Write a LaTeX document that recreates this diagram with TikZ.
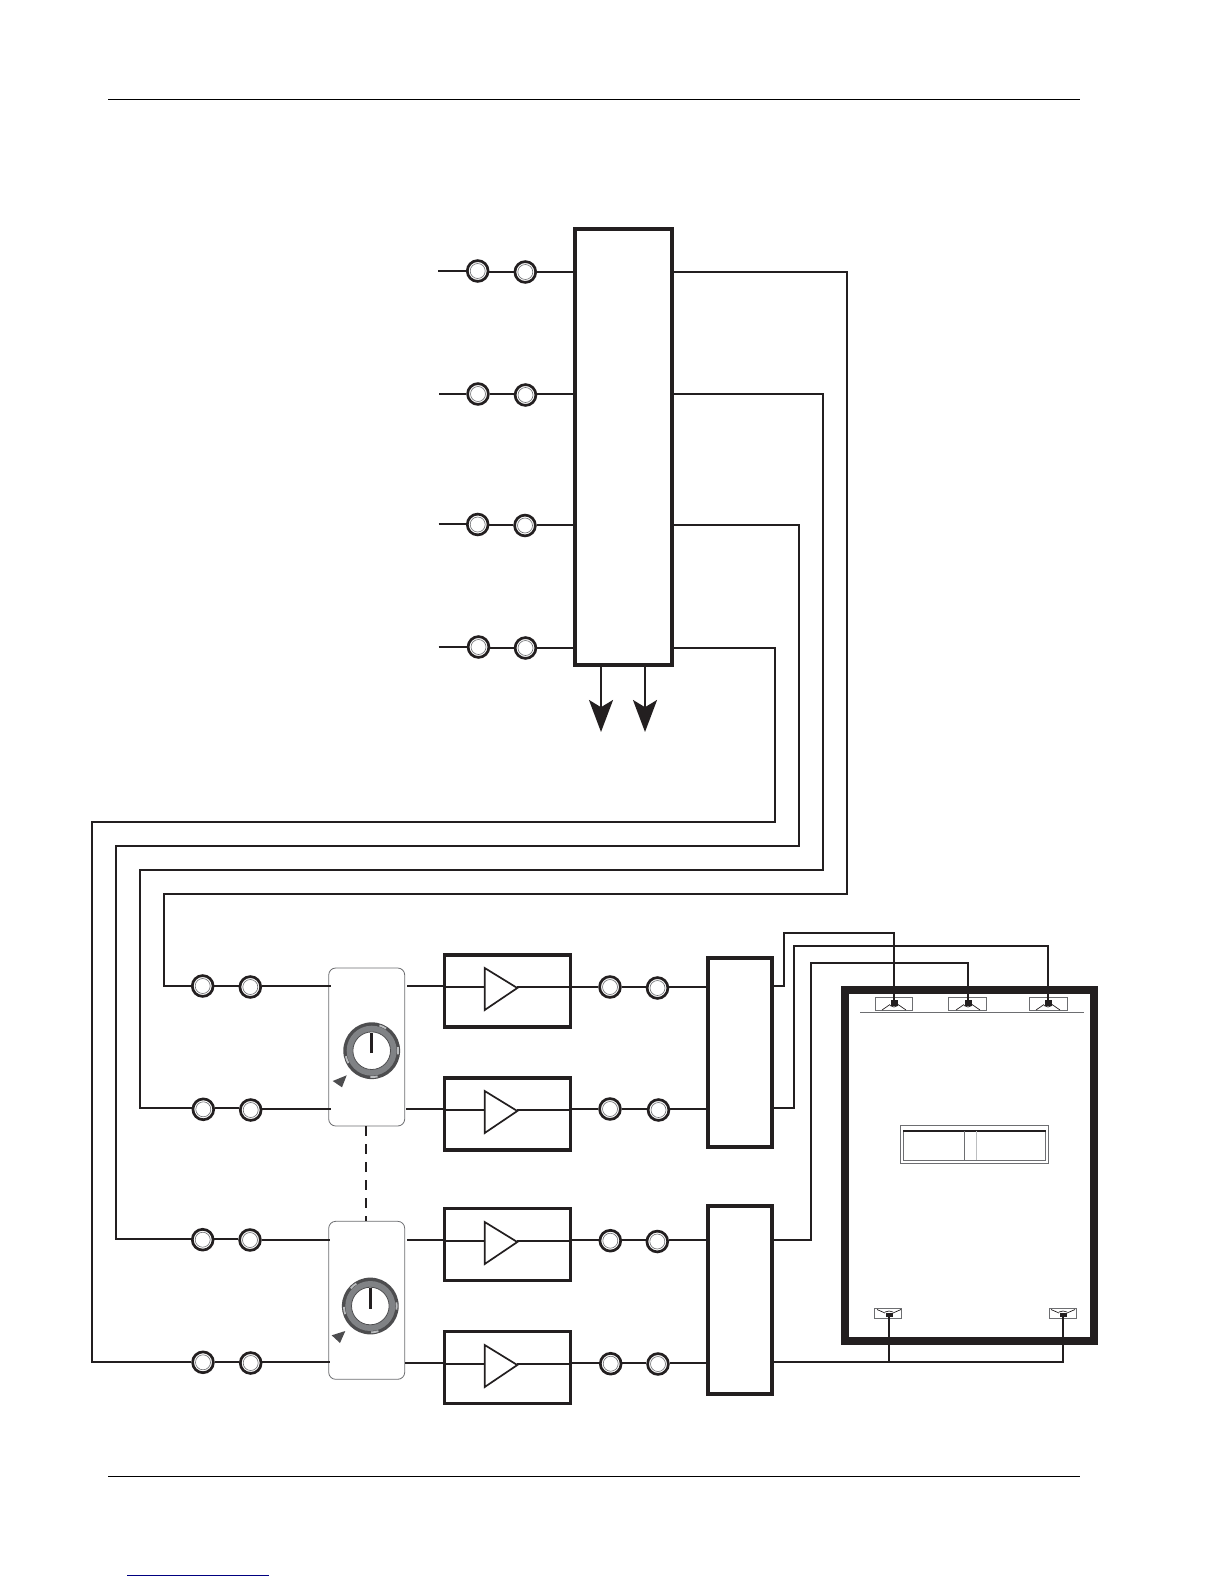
\documentclass[tikz,border=0pt]{standalone}
\usetikzlibrary{fit,arrows.meta}
\definecolor{ink}{HTML}{231F20}
\definecolor{ringdark}{HTML}{4D4D4F}
\definecolor{ringmid}{HTML}{808285}
\definecolor{ticklight}{HTML}{BCBEC0}
\definecolor{thingray}{HTML}{6D6E71}
\definecolor{linkblue}{HTML}{000080}
\tikzset{
  wire/.style={draw=ink,line width=1.05pt,line join=miter},
  thinwire/.style={draw=ink,line width=.55pt},
  blockbox/.style={draw=ink,line width=1.75pt,fill=white,inner sep=0pt,outer sep=0pt},
  roombox/.style={draw=ink,line width=3.9pt,inner sep=0pt,outer sep=0pt},
  panelbox/.style={draw=thingray,line width=.4pt,fill=white,rounded corners=3.5pt,inner sep=0pt,outer sep=0pt},
  jack/.style={circle,draw=ink,line width=1.35pt,fill=white,minimum size=10.4pt,inner sep=0pt,outer sep=.6pt,
    path picture={\draw[thingray,line width=.3pt] (path picture bounding box.center) circle (3.75pt);}},
  spkbox/.style={draw=thingray,line width=.45pt,inner sep=0pt,outer sep=0pt},
  cone/.style={draw=ink,line width=.35pt},
  magnet/.style={fill=ink,draw=none,inner sep=0pt,outer sep=0pt},
  fine/.style={draw=thingray,line width=.5pt},
  pagerule/.style={draw=black,line width=.6pt},
  downarrow/.style={wire,-{Stealth[length=16pt,width=12pt,inset=3.6pt]}},
  link/.style={draw=ink,line width=1.05pt,dash pattern=on 5pt off 4pt}
}
\begin{document}
\begin{tikzpicture}[x=0.5pt,y=-0.5pt]
\useasboundingbox (0,0) rectangle (1224,1584);
% page rules
\coordinate (ra) at (108,99.5); \coordinate (rb) at (1080,99.5);
\coordinate (rc) at (108,1476.3); \coordinate (rd) at (1080,1476.3);
\coordinate (re) at (127,1575.3); \coordinate (rf) at (269,1575.3);
\draw[pagerule] (ra) -- (rb);
\draw[pagerule] (rc) -- (rd);
\draw[draw=linkblue,line width=.6pt] (re) -- (rf);
% main block
\node[blockbox,fit={(575,229)(672,665)}] (mix) {};
% top jacks
\node[jack] (t1a) at (477.7,271) {}; \node[jack] (t1b) at (525.3,272) {};
\node[jack] (t2a) at (478,394) {};   \node[jack] (t2b) at (525.5,395) {};
\node[jack] (t3a) at (477.7,524.5) {}; \node[jack] (t3b) at (525,525.5) {};
\node[jack] (t4a) at (478.5,647) {}; \node[jack] (t4b) at (525.5,648) {};
\coordinate (i1) at (438,271); \coordinate (i2) at (439,394);
\coordinate (i3) at (438.5,524); \coordinate (i4) at (438.5,647);
\coordinate (w1) at (0,272); \coordinate (w2) at (0,394);
\coordinate (w3) at (0,525); \coordinate (w4) at (0,648);
\foreach \n in {1,2,3,4}{
  \draw[wire] (i\n) -- (i\n -| t\n a.west);
  \draw[wire] (t\n a.east |- w\n) -- (t\n b.west |- w\n);
  \draw[wire] (t\n b.east |- w\n) -- (w\n -| mix.west);
}
% bottom arrows
\coordinate (ar1) at (601,732); \coordinate (ar2) at (645,732);
\draw[downarrow] (ar1 |- mix.south) -- (ar1);
\draw[downarrow] (ar2 |- mix.south) -- (ar2);
% input jacks
\node[jack] (r1a) at (202.7,986) {};    \node[jack] (r1b) at (250.3,987) {};
\node[jack] (r2a) at (203.3,1109.3) {}; \node[jack] (r2b) at (250.7,1110) {};
\node[jack] (r3a) at (202.7,1239.7) {}; \node[jack] (r3b) at (250,1240) {};
\node[jack] (r4a) at (203,1362.3) {};   \node[jack] (r4b) at (250.7,1363) {};
% long loops
\coordinate (c1) at (847,894); \coordinate (d1) at (164,894);
\coordinate (c2) at (823,870); \coordinate (d2) at (140,870);
\coordinate (c3) at (799,846); \coordinate (d3) at (116,846);
\coordinate (c4) at (775,822); \coordinate (d4) at (92,822);
\coordinate (g1) at (0,986);  \coordinate (g2) at (0,1108);
\coordinate (g3) at (0,1239); \coordinate (g4) at (0,1362);
\draw[wire] (w1 -| mix.east) -| (c1) -- (d1) |- (g1 -| r1a.west);
\draw[wire] (w2 -| mix.east) -| (c2) -- (d2) |- (g2 -| r2a.west);
\draw[wire] (w3 -| mix.east) -| (c3) -- (d3) |- (g3 -| r3a.west);
\draw[wire] (w4 -| mix.east) -| (c4) -- (d4) |- (g4 -| r4a.west);
% knob panels
\node[panelbox,fit={(328.7,968)(404.7,1126)}] (p1) {};
\node[panelbox,fit={(328.7,1221.3)(404.7,1379.3)}] (p2) {};
\coordinate (lk) at (366,1100);
\draw[link] (lk |- p1.south) -- (lk |- p2.north);
\foreach \cx/\cy/\ta/\tb/\tc/\td in {371.7/1050.7/65/0/-85/200, 370.3/1306/130/0/-80/190}{
  \begin{scope}[shift={(\cx,\cy)}]
    \fill[ringdark] (0,0) circle (14.2pt);
    \foreach \a in {\ta,\tb,\tc,\td}{
      \draw[ticklight,line width=.9pt] (-\a+8:26.4) -- (-\a:26.4) -- (-\a-8:26.4);
    }
    \fill[ringmid] (0,0) circle (12.5pt);
    \draw[ringdark,line width=.4pt,fill=white] (0,0) circle (9.4pt);
    \draw[ink,line width=1.6pt] (0,2.5) -- (0,-18);
  \end{scope}
}
\fill[ringdark] (332.7,1081) -- (346.7,1075.3) -- (342,1087.3) -- cycle;
\fill[ringdark] (331.7,1335.3) -- (345.3,1331) -- (340,1343) -- cycle;
% amplifiers
\foreach \n/\t in {1/955,2/1078,3/1208.5,4/1331.5}{
  \pgfmathsetmacro{\b}{\t+72}
  \pgfmathsetmacro{\m}{round(\t+32)}
  \pgfmathsetmacro{\u}{\m-19}
  \pgfmathsetmacro{\v}{\m+23}
  \pgfmathsetmacro{\k}{\m+1}
  \node[blockbox,fit={(444.7,\t)(570.7,\b)}] (a\n) {};
  \coordinate (tw\n) at (484.7,\m);
  \coordinate (te\n) at (517.3,\m);
  \draw[ink,line width=.85pt,line join=miter] (484.7,\u) -- (517.3,\k) -- (484.7,\v) -- cycle;
  \draw[thinwire] (tw\n -| a\n.west) -- (tw\n);
  \draw[thinwire] (te\n) -- (te\n -| a\n.east);
}
% crossovers
\node[blockbox,fit={(708,958)(772,1147)}] (x1) {};
\node[blockbox,fit={(708,1206)(772,1394)}] (x2) {};
% output jacks
\node[jack] (q1a) at (610,987) {};      \node[jack] (q1b) at (657.5,988) {};
\node[jack] (q2a) at (610,1109) {};     \node[jack] (q2b) at (658.5,1110) {};
\node[jack] (q3a) at (610.3,1240.7) {}; \node[jack] (q3b) at (657.3,1241.5) {};
\node[jack] (q4a) at (610.7,1363.7) {}; \node[jack] (q4b) at (658,1364) {};
% row wiring
\coordinate (h1) at (0,987);  \coordinate (h2) at (0,1109);
\coordinate (h3) at (0,1240); \coordinate (h4) at (0,1363);
\coordinate (pl1) at (331,986);  \coordinate (pr1) at (407,986);
\coordinate (pl2) at (331,1109); \coordinate (pr2) at (406,1109);
\coordinate (pl3) at (330,1240); \coordinate (pr3) at (407,1240);
\coordinate (pl4) at (330,1362); \coordinate (pr4) at (405,1363);
\foreach \n/\x in {1/x1,2/x1,3/x2,4/x2}{
  \draw[wire] (r\n a.east |- g\n) -- (r\n b.west |- g\n);
  \draw[wire] (r\n b.east |- pl\n) -- (pl\n);
  \draw[wire] (pr\n) -- (pr\n -| a\n.west);
  \draw[wire] (h\n -| a\n.east) -- (h\n -| q\n a.west);
  \draw[wire] (h\n -| q\n a.east) -- (h\n -| q\n b.west);
  \draw[wire] (h\n -| q\n b.east) -- (h\n -| \x.west);
}
% room
\node[roombox,fit={(845.2,990)(1093.8,1341)}] (room) {};
\coordinate (la) at (860,1012.3); \coordinate (lb) at (1084,1012.3);
\draw[fine] (la) -- (lb);
% front speakers
\foreach \n/\l/\r/\c in {1/875.3/912.7/894,2/948.3/986.3/968,3/1029.3/1067/1048}{
  \node[spkbox,fit={(\l,997.3)(\r,1010.5)}] (sb\n) {};
  \pgfmathsetmacro{\pa}{\c-12}\pgfmathsetmacro{\pb}{\c-4}
  \pgfmathsetmacro{\pc}{\c+4}\pgfmathsetmacro{\pd}{\c+12}
  \draw[cone] (\pa,1010) -- (\pb,1004.5);
  \draw[cone] (\pc,1004.5) -- (\pd,1010);
  \draw[cone] (\pb,1005.5) -- (\c,1007) -- (\pc,1005.5);
  \node[magnet,minimum width=3.5pt,minimum height=3pt] (s\n) at (\c,1003) {};
}
% rear speakers
\foreach \n/\l/\r/\c in {4/874.3/901.3/889,5/1049.3/1076/1063}{
  \node[spkbox,fit={(\l,1308.7)(\r,1318.3)}] (sb\n) {};
  \pgfmathsetmacro{\pa}{\c-12}\pgfmathsetmacro{\pb}{\c-4}
  \pgfmathsetmacro{\pc}{\c+4}\pgfmathsetmacro{\pd}{\c+12}
  \draw[cone] (\pa,1309.5) -- (\pb,1313);
  \draw[cone] (\pc,1313) -- (\pd,1309.5);
  \draw[cone] (\pb,1312) -- (\c,1311) -- (\pc,1312);
  \node[magnet,minimum width=3.5pt,minimum height=2pt] (s\n) at (\c,1314.7) {};
}
% screen
\node[spkbox,fit={(900.3,1125.7)(1048.3,1163.3)}] (scr) {};
\node[spkbox,fit={(903.3,1131)(1045.7,1160)}] (scri) {};
\coordinate (sa) at (903.3,1131); \coordinate (sb) at (1045.7,1131);
\draw[ink,line width=.6pt] (sa) -- (sb);
\coordinate (sc) at (964.3,1131); \coordinate (sd) at (964.3,1160);
\coordinate (se) at (976.7,1131); \coordinate (sf) at (976.7,1160);
\draw[fine] (sc) -- (sd);
\draw[draw=ticklight,line width=.5pt] (se) -- (sf);
% speaker wiring
\coordinate (o1) at (772,986);  \coordinate (e1) at (784,933);
\coordinate (o2) at (772,1108); \coordinate (e2) at (794,946);
\coordinate (o3) at (772,1240); \coordinate (e3) at (811,963);
\coordinate (o4) at (772,1362); \coordinate (e4) at (889,1362);
\draw[wire] (o1) -| (e1) -| (s1);
\draw[wire] (o2) -| (e2) -| (s3);
\draw[wire] (o3) -| (e3) -| (s2);
\draw[wire] (o4) -| (s5);
\draw[wire] (s4) -- (s4 |- e4);
\end{tikzpicture}
\end{document}
